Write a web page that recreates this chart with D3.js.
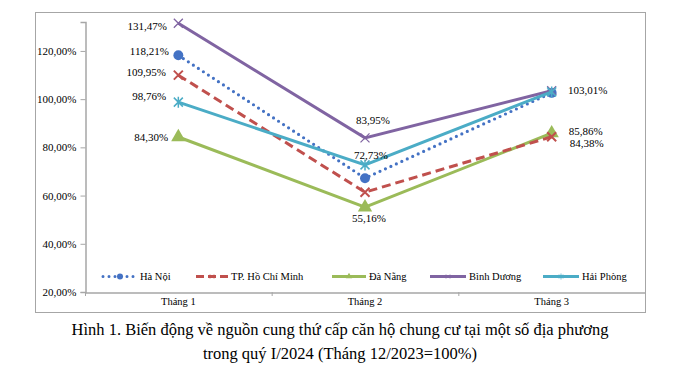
<!DOCTYPE html>
<html><head><meta charset="utf-8">
<script src="https://cdn.jsdelivr.net/npm/d3@7"></script>
<style>body{margin:0;background:#fff}svg{display:block}</style>
</head><body><svg id="c" width="683" height="368"></svg>
<script>
const categories = ["Tháng 1", "Tháng 2", "Tháng 3"];
const seriesNames = ["Hà Nội", "TP. Hồ Chí Minh", "Đà Nẵng", "Bình Dương", "Hải Phòng"];
const haNoi = [118.21, 67.2, 102.6];
const hoChiMinh = [109.95, 61.4, 84.38];
const daNang = [84.30, 55.16, 85.86];
const binhDuong = [131.47, 83.95, 103.5];
const haiPhong = [98.76, 72.73, 103.01];
const yTicks = [20, 40, 60, 80, 100, 120];
const labelText = {
  "Hà Nội": ["118,21%", null, null],
  "TP. Hồ Chí Minh": ["109,95%", null, "84,38%"],
  "Đà Nẵng": ["84,30%", "55,16%", "85,86%"],
  "Bình Dương": ["131,47%", "83,95%", null],
  "Hải Phòng": ["98,76%", "72,73%", "103,01%"]
};
const caption1 = "Hình 1. Biến động về nguồn cung thứ cấp căn hộ chung cư tại một số địa phương";
const caption2 = "trong quý I/2024 (Tháng 12/2023=100%)";

const values = [haNoi, hoChiMinh, daNang, binhDuong, haiPhong];
const colors = ["#4472C4", "#C0504D", "#9BBB59", "#8064A2", "#4BACC6"];
const dashes = ["0,6", "9,5", null, null, null];
const markers = ["circle", "x", "triangle", "x2", "star"];
const font = "Liberation Serif, Times New Roman, serif";

const svg = d3.select("#c");
svg.append("rect").attr("x", 35.5).attr("y", 12.5).attr("width", 610).attr("height", 300)
  .attr("fill", "#fff").attr("stroke", "#a6a6a6").attr("stroke-width", 1);

const x = d3.scaleBand().domain(categories).range([85, 645]);
const y = d3.scaleLinear().domain([20, 132]).range([292, 22]);

// y axis
const ya = svg.append("g").attr("transform", "translate(85.5,0)")
  .call(d3.axisLeft(y).tickValues(yTicks).tickSize(5).tickFormat(d => d3.format(".2f")(d).replace(".", ",") + "%"));
ya.attr("font-family", null).attr("font-size", null);
ya.select(".domain").attr("stroke", "#a6a6a6").attr("stroke-width", 1.5);
ya.selectAll(".tick line").attr("stroke", "#a6a6a6");
ya.selectAll("text").style("font-family", font).style("font-size", "11px").attr("fill", "#000").attr("x", -9);

// x axis
const xa = svg.append("g").attr("transform", "translate(0,292.5)")
  .call(d3.axisBottom(x).tickSize(0).tickSizeOuter(0));
xa.attr("font-family", null).attr("font-size", null);
xa.select(".domain").attr("stroke", "#a6a6a6").attr("stroke-width", 1.5);
xa.selectAll("text").style("font-family", font).style("font-size", "10.5px").attr("fill", "#000").attr("dy", "0.9em");
const bounds = categories.map(c => x(c));
bounds.push(645);
svg.selectAll(".xt").data(bounds).enter().append("line")
  .attr("x1", d => d + 0.5).attr("x2", d => d + 0.5).attr("y1", 292).attr("y2", 296)
  .attr("stroke", "#a6a6a6");

const cx = c => x(c) + x.bandwidth() / 2;

function drawMarker(g, type, color, px, py, s, sw) {
  if (type === "circle") {
    g.append("circle").attr("cx", px).attr("cy", py).attr("r", s * 0.55).attr("fill", color);
  } else if (type === "triangle") {
    g.append("path").attr("d", d3.symbol(d3.symbolTriangle, s * s * 1.1)()).attr("transform", `translate(${px},${py})`).attr("fill", color);
  } else if (type === "x" || type === "x2") {
    const h = s / 2;
    g.append("path").attr("d", `M${px-h},${py-h}L${px+h},${py+h}M${px-h},${py+h}L${px+h},${py-h}`)
      .attr("stroke", color).attr("stroke-width", sw || (type === "x" ? 2 : 1.3)).attr("fill", "none");
  } else if (type === "star") {
    const h = s / 2;
    g.append("path").attr("d", `M${px-h},${py-h}L${px+h},${py+h}M${px-h},${py+h}L${px+h},${py-h}M${px},${py-h-1}L${px},${py+h+1}`)
      .attr("stroke", color).attr("stroke-width", sw || 1.5).attr("fill", "none");
  }
}

const line = d3.line().x((d, i) => cx(categories[i])).y(d => y(d));
const order = [2, 1, 0, 3, 4];
order.forEach(si => {
  const g = svg.append("g");
  const p = g.append("path").datum(values[si]).attr("d", line).attr("fill", "none")
    .attr("stroke", colors[si]).attr("stroke-width", 3);
  if (dashes[si]) p.attr("stroke-dasharray", dashes[si]);
  if (si === 0) p.attr("stroke-linecap", "round").attr("stroke-width", 3.2);
  values[si].forEach((v, i) => drawMarker(g, markers[si], colors[si], cx(categories[i]), y(v), 9));
});

// data labels
const lbl = svg.append("g");
const offsets = {
  "Hà Nội": [[-29, -4], null, null],
  "TP. Hồ Chí Minh": [[-32, -3], null, [35, 6]],
  "Đà Nẵng": [[-27, 0], [4, 11], [34, -2]],
  "Bình Dương": [[-31, 3], [8, -18], null],
  "Hải Phòng": [[-29, -6], [6, -10], [36, -2]]
};
seriesNames.forEach((n, si) => {
  labelText[n].forEach((t, i) => {
    if (!t) return;
    const o = offsets[n][i];
    lbl.append("text").attr("x", cx(categories[i]) + o[0]).attr("y", y(values[si][i]) + o[1])
      .attr("text-anchor", "middle").attr("dominant-baseline", "central")
      .style("font-family", font).style("font-size", "11px").attr("fill", "#000").text(t);
  });
});

// legend
const legX = [103, 196, 332, 430, 543];
const legW = [34, 32, 34, 36, 36];
const lg = svg.append("g");
seriesNames.forEach((n, si) => {
  const ly = 276.5;
  const l = lg.append("line").attr("x1", legX[si]).attr("x2", legX[si] + legW[si]).attr("y1", ly).attr("y2", ly)
    .attr("stroke", colors[si]).attr("stroke-width", 3);
  if (si === 0) l.attr("stroke-dasharray", "0,6").attr("stroke-linecap", "round");
  if (si === 1) l.attr("stroke-dasharray", "8,4");
  drawMarker(lg, markers[si], colors[si], legX[si] + legW[si] / 2, ly, si === 0 ? 5.5 : 4, 0.8);
  lg.append("text").attr("x", legX[si] + legW[si] + 3).attr("y", ly).attr("dominant-baseline", "central")
    .style("font-family", font).style("font-size", "10.5px").attr("fill", "#000").text(n);
});

// caption
svg.append("text").attr("x", 340).attr("y", 335).attr("text-anchor", "middle")
  .style("font-family", font).style("font-size", "16.5px").attr("fill", "#000").text(caption1);
svg.append("text").attr("x", 340).attr("y", 359).attr("text-anchor", "middle")
  .style("font-family", font).style("font-size", "16.5px").attr("fill", "#000").text(caption2);
</script></body></html>
